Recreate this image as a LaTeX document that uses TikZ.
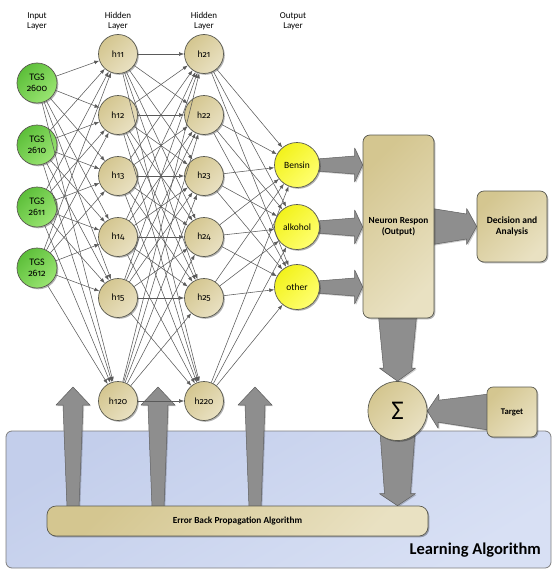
\documentclass[tikz,border=0pt]{standalone}
\usepackage{fontspec}
\setmainfont{Carlito}
\newfontfamily\osf{Fira Sans}[Numbers=OldStyle, Scale=0.92]
\usetikzlibrary{calc,shadows,arrows.meta}
\pgfdeclarelayer{bga}\pgfdeclarelayer{bgb}\pgfsetlayers{bga,bgb,main}
\definecolor{tanA}{HTML}{D4C690}
\definecolor{tanB}{HTML}{E9E1C2}
\definecolor{greenA}{HTML}{5DBF3A}
\definecolor{greenB}{HTML}{9AE572}
\definecolor{yelA}{HTML}{F2F21C}
\definecolor{yelB}{HTML}{FFFF70}
\definecolor{blueA}{HTML}{C3CEEB}
\definecolor{blueB}{HTML}{D8E0F4}
\definecolor{bordc}{HTML}{5A5A50}
\definecolor{edgec}{HTML}{5A5A5A}
\definecolor{arrf}{HTML}{8E8E8E}
\definecolor{arrd}{HTML}{5E5E5E}
\newcommand\myfatarrow[6]{%
  \coordinate (fa-h) at ($(#2)!#6!(#1)$);
  \path[bigarrow] ($(#1)!#3!90:(#2)$) -- ($(fa-h)!#4!90:(#2)$) -- ($(fa-h)!#5!90:(#2)$) -- (#2)
     -- ($(fa-h)!#5!-90:(#2)$) -- ($(fa-h)!#4!-90:(#2)$) -- ($(#1)!#3!-90:(#2)$) -- cycle;
}
\tikzset{
  shad/.style={drop shadow={shadow xshift=1.3pt, shadow yshift=-1.3pt, opacity=0.3, fill=black}},
  tanfill/.style={top color=tanA, bottom color=tanB, shading angle=45},
  neuron/.style={circle, draw=bordc, line width=0.7pt, inner sep=0pt, minimum size=39pt,
     tanfill, shad, font=\fontsize{9.5}{10}\selectfont},
  innode/.style={circle, draw=bordc, line width=0.7pt, inner sep=0pt, minimum size=40pt,
     top color=greenA, bottom color=greenB, shading angle=45, shad, align=center,
     font=\fontsize{10}{10.5}\selectfont},
  outnode/.style={circle, draw=bordc, line width=0.7pt, inner sep=0pt, minimum size=45pt,
     top color=yelA, bottom color=yelB, shading angle=45, shad, font=\fontsize{9.5}{10}\selectfont},
  rbox/.style={rectangle, draw=bordc, line width=0.7pt, rounded corners=7pt, inner sep=0pt,
     tanfill, shad, align=center, font=\bfseries\fontsize{9.3}{10.5}\selectfont},
  lbl/.style={align=center, inner sep=0pt, font=\fontsize{9}{10.3}\selectfont},
  link/.style={draw=edgec, line width=0.55pt, -{Latex[length=5pt,width=3.8pt]}},
  bigarrow/.style={fill=arrf, draw=arrd, line width=0.5pt, line join=round,
     drop shadow={shadow xshift=1.2pt, shadow yshift=-1.2pt, opacity=0.2, fill=black}},
}
\begin{document}
\begin{tikzpicture}[x=1pt,y=-1pt]
\useasboundingbox (0,0) rectangle (553,570);
% layer labels
\node[lbl] (lin) at (37,21) {Input\\Layer};
\node[lbl] (lh1) at (118,21) {Hidden\\Layer};
\node[lbl] (lh2) at (204,21) {Hidden\\Layer};
\node[lbl] (lout) at (293,21) {Output\\Layer};
% input nodes
\node[innode] (i1) at (37,83) {TGS\\{\osf 2600}};
\node[innode] (i2) at (37,145) {TGS\\{\osf 2610}};
\node[innode] (i3) at (37,207) {TGS\\{\osf 2611}};
\node[innode] (i4) at (37,268) {TGS\\{\osf 2612}};
% hidden layers
\foreach \n/\y/\t in {1/54/11,2/115/12,3/176/13,4/237/14,5/298/15,6/401/120}{
  \node[neuron] (a\n) at (118,\y) {h{\osf\t}};
}
\foreach \n/\y/\t in {1/54/21,2/115/22,3/176/23,4/237/24,5/298/25,6/401/220}{
  \node[neuron] (b\n) at (204,\y) {h{\osf\t}};
}
% outputs
\node[outnode] (o1) at (297,165) {Bensin};
\node[outnode] (o2) at (297,227) {alkohol};
\node[outnode] (o3) at (297,287) {other};
% right side
\node[rbox, minimum width=71pt, minimum height=183pt] (nr) at (398.5,226.5) {Neuron Respon\\(Output)};
\node[rbox, minimum width=70pt, minimum height=71pt, font=\bfseries\fontsize{9.5}{11}\selectfont] (dc) at (512,226.5) {Decision and\\Analysis};
\node[circle, draw=bordc, line width=0.7pt, inner sep=0pt, minimum size=59pt, tanfill, shad,
      font=\fontsize{27}{27}\selectfont] (sg) at (397.5,411) {Σ};
\node[rbox, rounded corners=6pt, minimum width=50pt, minimum height=50pt, font=\bfseries\fontsize{8.7}{10}\selectfont] (tg) at (512,412) {Target};
\node[rbox, rounded corners=9pt, minimum width=381pt, minimum height=30pt] (eb) at (237.5,521) {Error Back Propagation Algorithm};
% background
\begin{pgfonlayer}{bga}
\node[rectangle, draw=arrd!80, line width=0.8pt, rounded corners=6pt, minimum width=545pt, minimum height=137pt,
      top color=blueA, bottom color=blueB, shading angle=30] (bg) at (278.5,499.5) {};
\end{pgfonlayer}
\node[anchor=east, inner sep=0pt, font=\bfseries\fontsize{16.5}{18}\selectfont] (la) at (541,550) {Learning Algorithm};
% big arrows
\coordinate (s1) at ($(o1.east)+(-3,0)$);
\coordinate (s2) at ($(o2.east)+(-3,0)$);
\coordinate (s3) at ($(o3.east)+(-3,0)$);
\coordinate (t1) at (nr.west |- o1.east);
\coordinate (t2) at (nr.west |- o2.east);
\coordinate (t3) at (nr.west |- o3.east);
\coordinate (s4) at ($(nr.east)+(-2,0)$);
\coordinate (t4) at (dc.west |- nr.east);
\coordinate (s5) at ($(sg.north |- nr.south)+(0,-2)$);
\coordinate (s6) at ($(tg.west)+(2,0)$);
\coordinate (t7) at (eb.north -| sg.south);
\coordinate (u1) at (73,387);
\coordinate (u2) at (158,387);
\coordinate (u3) at (255,387);
\coordinate (v1) at ($(eb.north -| u1)+(0,2)$);
\coordinate (v2) at ($(eb.north -| u2)+(0,2)$);
\coordinate (v3) at ($(eb.north -| u3)+(0,2)$);
\begin{pgfonlayer}{bgb}
\myfatarrow{s1}{t1}{6pt}{9pt}{17pt}{8pt}
\myfatarrow{s2}{t2}{6pt}{9pt}{17pt}{8pt}
\myfatarrow{s3}{t3}{6pt}{9pt}{17pt}{8pt}
\myfatarrow{s4}{t4}{18pt}{12.5pt}{18pt}{10pt}
\myfatarrow{s5}{sg.north}{19pt}{14pt}{18pt}{13pt}
\myfatarrow{s6}{sg.east}{18pt}{11pt}{17pt}{11pt}
\myfatarrow{sg.center}{t7}{19pt}{13pt}{18pt}{12pt}
\myfatarrow{v1}{u1}{6pt}{10pt}{17pt}{18pt}
\myfatarrow{v2}{u2}{6pt}{10pt}{17pt}{18pt}
\myfatarrow{v3}{u3}{6pt}{10pt}{17pt}{18pt}
\end{pgfonlayer}
% links
\foreach \i in {1,...,4}{\foreach \j in {1,...,6}{\draw[link] (i\i) -- (a\j);}}
\foreach \i in {1,...,6}{\foreach \j in {1,...,6}{\draw[link] (a\i) -- (b\j);}}
\foreach \i in {1,...,6}{\foreach \j in {1,...,3}{\draw[link] (b\i) -- (o\j);}}
\end{tikzpicture}
\end{document}
